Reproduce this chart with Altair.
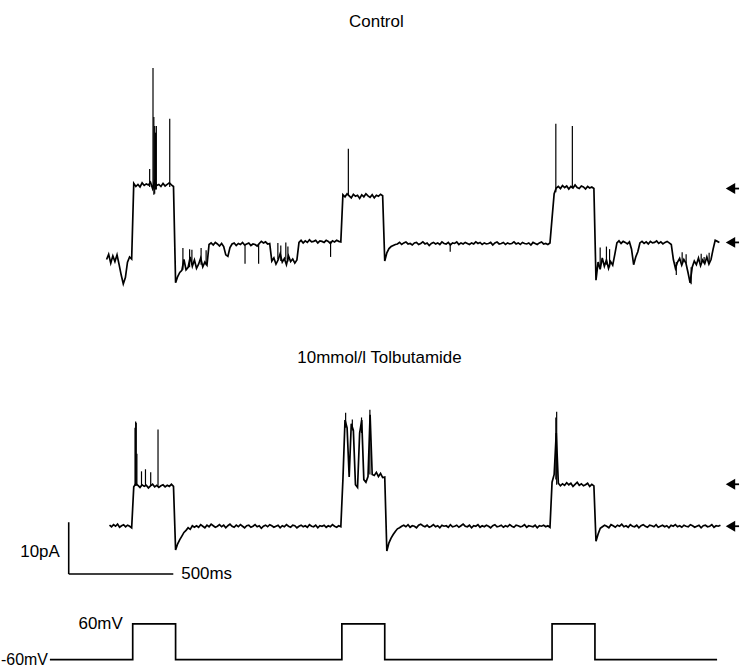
import altair as alt
import numpy as np
import pandas as pd

# ---------------- data (time in ms, current in pA, voltage in mV) ----------------
# Control trace: segments (start ms, end ms, sampled values in pA)
control_segments = [
    (0, 120, [-3.5, -2.5, -4.2, -2.8, -3.9, -2.6, -4.5, -6.5, -8.2, -7.0, -4.0, -3.0, -3.4]),
    (130, 320, [11.2, 10.6, 11.0, 10.5, 11.3, 10.8, 11.1, 10.9, 11.4, 10.2, 11.6, 10.8, 11.0, 10.6,
                11.2, 10.7, 11.0, 11.3, 10.9, 10.6]),
    (330, 480, [-8.0, -6.8, -6.0, -5.6, -3.5, -5.5, -5.0, -3.0, -4.8, -3.6, -5.2, -4.4, -3.2, -4.9,
                -4.0, -4.6]),
    (490, 780, [-0.6, -0.3, -0.7, -0.2, -0.5, -0.9, -0.4, -1.0, -2.6, -2.9, -1.2, -0.5, -0.3, -0.8,
                -0.4, -0.6, -0.2, -0.7, -0.5, -0.3, -0.8, -0.5, -0.6, -0.9, -0.4, 0.0, -0.3, -0.1,
                -0.5, -0.4]),
    (790, 910, [-3.8, -3.2, -4.4, -3.6, -2.4, -4.0, -3.3, -4.5, -2.8, -3.9, -3.4, -4.2, -3.6]),
    (920, 1120, [-0.2, 0.2, -0.3, 0.1, -0.2, 0.3, -0.1, 0.0, 0.2, -0.3, 0.1, 0.0, -0.2, 0.2, 0.0,
                 -0.4, 0.1, -0.1, 0.2, 0.0, -0.1]),
    (1130, 1320, [9.0, 8.6, 9.2, 8.8, 8.4, 9.1, 8.7, 8.9, 8.3, 9.0, 8.6, 9.2, 8.8, 8.5, 9.0, 8.4,
                  8.9, 8.7, 9.1, 8.8]),
    (1330, 2120, [-3.8, -2.2, -1.4, -1.0, -0.8, -0.6,
                  -0.5, -0.2, -0.6, -0.3, -0.1, -0.5, -0.4, -0.7, -0.3, -0.2, -0.6, -0.4, -0.1,
                  -0.5, -0.3, -0.8, -0.4, -0.2, -0.5, -0.3, -0.6, -0.1, -0.4, -0.5, -0.2, -0.7,
                  -0.3, -0.4, -0.1, -0.6, -0.3, -0.5, -0.2, -0.4, -0.6, -0.3, -0.5, -0.1, -0.4,
                  -0.2, -0.6, -0.3, -0.5, -0.4, -0.2, -0.7, -0.3, -0.1, -0.5, -0.4, -0.2, -0.6,
                  -0.3, -0.5, -0.4, -0.1, -0.5, -0.3, -0.6, -0.2, -0.4, -0.5, -0.3, -0.7, -0.2,
                  -0.4, -0.6, -0.3, -0.1, -0.5, -0.4, -0.6, -0.3]),
    (2130, 2330, [4.5, 9.2, 10.3, 10.6, 10.2, 10.8, 10.4, 10.7, 10.1, 10.6, 10.3, 10.9, 10.4, 10.2,
                  10.7, 10.5, 10.1, 10.6, 10.3, 10.5, 10.2]),
    (2340, 2930, [-7.5, -4.0, -5.4, -3.2, -4.8, -3.6, -5.2, -3.9, -4.6, -2.5, -0.3, 0.1, -0.4, 0.0,
                  -0.2, -0.5, -0.1, -1.5, -4.5, -3.0, -2.0, -0.3, 0.0, -0.4, -0.1, -0.5, 0.0, -0.3,
                  -0.2, 0.1, -0.4, -0.1, -0.5, -0.2, 0.0, -0.3, -0.6, -3.5, -5.2, -4.0, -3.3, -4.6,
                  -3.5, -4.2, -6.0, -8.0, -5.0, -3.8, -4.5, -3.2, -4.7, -3.6, -4.3, -3.0, -4.4,
                  -3.5, -1.5, 0.2, 0.0, -0.2]),
]
# brief channel openings / closings in the control trace: (ms, from pA, to pA)
control_spikes = [
    (206, 10.5, 14.0), (222, 10.0, 33.5), (226, 9.0, 24.0), (230, 9.2, 22.3), (234, 10.0, 21.0),
    (238, 10.0, 22.3), (302, 10.5, 23.7),
    (365, -5.5, -1.3), (397, -5.0, -1.5), (408, -4.5, -1.6), (452, -4.5, -1.3), (476, -4.6, -1.7),
    (662, -0.5, -4.3), (727, -0.5, -4.3),
    (819, -3.5, -0.3), (833, -3.8, -0.8), (857, -3.5, -0.2), (867, -3.9, -1.0),
    (1071, 0.0, -3.0), (1156, 8.8, 17.9), (1643, -0.4, -2.0),
    (2148, 9.5, 22.7), (2227, 10.3, 22.3),
    (2360, -5.0, -1.2), (2390, -4.5, -1.0), (2405, -5.0, -1.5),
    (2724, -4.0, -6.5), (2752, -4.0, -2.1), (2771, -4.2, -2.5), (2795, -5.0, -8.3),
    (2843, -4.0, -2.4), (2857, -4.2, -3.0), (2881, -4.0, -2.2),
]

# 10 mmol/l tolbutamide trace
tolb_segments = [
    (14, 120, [0.2, -0.1, 0.3, 0.0, 0.4, -0.2, 0.1, 0.3, -0.1, 0.2, 0.0, -0.3]),
    (130, 320, [7.6, 8.2, 7.9, 7.5, 8.0, 7.7, 7.9, 7.4, 7.8, 8.1, 7.6, 7.9, 7.5, 7.8, 8.0, 7.6,
                7.9, 7.7, 8.1, 7.7]),
    (330, 1120, [-4.6, -3.4, -2.6, -1.9, -1.2, -0.8, -0.3, -0.6, 0.1, -0.2,
                 0.1, -0.2, 0.3, 0.0, -0.3, 0.2, -0.1, 0.4, 0.1, -0.2, 0.0, 0.3, -0.1, 0.2, -0.3,
                 0.1, 0.4, 0.0, -0.2, 0.2, -0.1, 0.3, 0.0, -0.3, 0.1, 0.2, -0.2, 0.0, 0.3, -0.1,
                 0.1, -0.4, 0.0, 0.2, -0.1, 0.3, 0.1, -0.2, 0.0, 0.2, -0.3, 0.1, -0.1, 0.3, 0.0,
                 -0.2, 0.2, 0.1, -0.3, 0.0, 0.2, -0.1, 0.1, -0.2, 0.3, 0.0, -0.1, 0.2, -0.3, 0.1,
                 0.0, 0.2, -0.2, 0.1, -0.1, 0.3, 0.0, -0.2, 0.1, -0.1]),
    (1130, 1330, [9.0, 20.5, 19.0, 9.5, 19.8, 18.5, 8.0, 7.5, 18.0, 20.5, 9.0, 8.5, 9.6, 21.5,
                  10.0, 9.8, 10.4, 9.6, 10.2, 9.4, 9.5]),
    (1340, 2120, [-4.8, -3.2, -2.3, -1.6, -1.0, -0.5, -0.3,
                  0.0, 0.2, -0.1, 0.3, -0.2, 0.1, 0.0, -0.3, 0.2, 0.4, 0.1, -0.1, 0.2, -0.2, 0.0,
                  0.3, -0.1, 0.1, -0.3, 0.2, 0.0, 0.1, -0.2, 0.3, -0.1, 0.0, 0.2, -0.2, 0.1, 0.4,
                  0.0, -0.1, 0.2, -0.3, 0.1, 0.0, 0.3, -0.2, 0.1, -0.1, 0.2, 0.0, -0.3, 0.1, 0.3,
                  -0.1, 0.0, 0.2, -0.2, 0.1, -0.1, 0.3, 0.0, -0.2, 0.2, 0.1, -0.1, 0.0, 0.3, -0.2,
                  0.1, 0.0, -0.1, 0.2, -0.3, 0.1, 0.0, 0.2, -0.1, 0.1, -0.2]),
    (2130, 2330, [8.5, 10.0, 18.0, 8.3, 7.8, 8.2, 7.9, 8.4, 8.0, 8.3, 7.7, 8.1, 8.5, 7.9, 8.2,
                  7.8, 8.0, 8.3, 7.7, 8.1, 7.8]),
    (2340, 2935, [-2.9, -1.5, -0.4,
                  -0.1, 0.2, 0.0, -0.3, 0.3, 0.1, -0.2, 0.2, 0.0, 0.4, -0.1, 0.1, -0.2, 0.3, 0.0,
                  -0.1, 0.2, -0.3, 0.1, 0.3, 0.0, -0.2, 0.2, 0.1, -0.1, 0.3, -0.2, 0.0, 0.2, -0.1,
                  0.1, -0.3, 0.2, 0.0, 0.3, -0.1, 0.1, -0.2, 0.2, 0.0, -0.1, 0.3, 0.1, -0.2, 0.0,
                  0.2, -0.3, 0.1, 0.2, -0.1, 0.0, 0.3, -0.2, 0.1, 0.0, 0.2]),
]
tolb_spikes = [
    (136, 7.8, 19.0), (139, 7.8, 20.2), (142, 7.8, 20.0), (145, 8.0, 14.0), (167, 7.8, 10.6),
    (186, 7.8, 11.0), (211, 7.8, 10.4), (246, 7.8, 18.7),
    (1143, 19.0, 21.9), (1175, 18.5, 20.6), (1219, 18.0, 21.0), (1259, 10.0, 22.5),
    (2148, 9.0, 21.0), (2152, 8.0, 22.1),
]

# open / closed level markers (pA) at the right edge
control_levels = [10.2, -0.2]
tolb_levels = [8.1, 0.0]

# voltage protocol: step times (ms) and levels (mV)
volt_t = [-271, 125, 330, 1125, 1330, 2130, 2335, 2919]
volt_mv = [-60, 60, -60, 60, -60, 60, -60, -60]

# scale bars
bar_pA = 10
bar_ms = 500

# ---------------- helpers ----------------
FONT = "Liberation Sans"
FS = 17
W = 740
X_DOM = [-500, 3023.8]
xs = alt.Scale(domain=X_DOM, nice=False, zero=False)
LW = 1.7


def seg_frame(segments):
    rows = []
    for s, e, vals in segments:
        ts = np.linspace(s, e, len(vals))
        rows += [{"t": float(t), "v": v} for t, v in zip(ts, vals)]
    return pd.DataFrame(rows)


def spike_frame(spikes):
    return pd.DataFrame(spikes, columns=["t", "v", "v2"])


def trace_panel(segments, spikes, levels, ydom, height, extra_layers, labels):
    ys = alt.Scale(domain=ydom, nice=False, zero=False)
    X = alt.X("t:Q", scale=xs, axis=None)
    line = alt.Chart(seg_frame(segments)).mark_line(
        color="black", strokeWidth=LW, strokeJoin="miter"
    ).encode(x=X, y=alt.Y("v:Q", scale=ys, axis=None))
    sp = alt.Chart(spike_frame(spikes)).mark_rule(color="black", strokeWidth=1.2).encode(
        x=X, y=alt.Y("v:Q", scale=ys), y2="v2:Q"
    )
    lv = pd.DataFrame({"t": [2983] * len(levels), "t2": [3024] * len(levels), "v": levels})
    arrow_tail = alt.Chart(lv).mark_rule(color="black", strokeWidth=1.8).encode(
        x=X, x2="t2:Q", y=alt.Y("v:Q", scale=ys)
    )
    arrow_head = alt.Chart(lv).mark_point(
        shape="triangle-left", filled=True, color="black", size=120, opacity=1
    ).encode(x=X, y=alt.Y("v:Q", scale=ys))
    txt = alt.Chart(pd.DataFrame(labels)).mark_text(
        font=FONT, fontSize=FS, color="black", baseline="middle", align="center"
    ).encode(x=X, y=alt.Y("v:Q", scale=ys), text="label:N")
    layers = [line, sp, arrow_tail, arrow_head] + extra_layers(X, ys) + [txt]
    return alt.layer(*layers).properties(width=W, height=height)


def no_extra(X, ys):
    return []


def scale_bars(X, ys):
    bar_t0 = -181
    bar_v0 = -9.23
    v = pd.DataFrame({"t": [bar_t0], "v": [bar_v0], "v2": [bar_v0 + bar_pA]})
    h = pd.DataFrame({"t": [bar_t0], "t2": [bar_t0 + bar_ms], "v": [bar_v0]})
    vr = alt.Chart(v).mark_rule(color="black", strokeWidth=1.6).encode(
        x=X, y=alt.Y("v:Q", scale=ys), y2="v2:Q")
    hr = alt.Chart(h).mark_rule(color="black", strokeWidth=1.6).encode(
        x=X, x2="t2:Q", y=alt.Y("v:Q", scale=ys))
    lab1 = alt.Chart(pd.DataFrame({"t": [bar_t0], "v": [bar_v0 + 4.2], "label": [f"{bar_pA}pA"]})).mark_text(
        font=FONT, fontSize=FS, align="right", baseline="middle", dx=-9, color="black"
    ).encode(x=X, y=alt.Y("v:Q", scale=ys), text="label:N")
    lab2 = alt.Chart(pd.DataFrame({"t": [bar_t0 + bar_ms], "v": [bar_v0], "label": [f"{bar_ms}ms"]})).mark_text(
        font=FONT, fontSize=FS, align="left", baseline="middle", dx=8, color="black"
    ).encode(x=X, y=alt.Y("v:Q", scale=ys), text="label:N")
    return [vr, hr, lab1, lab2]


control = trace_panel(
    control_segments, control_spikes, control_levels,
    [-11.346, 46.346], 300, no_extra,
    {"t": [1290], "v": [42.4], "label": ["Control"]},
)
tolb = trace_panel(
    tolb_segments, tolb_spikes, tolb_levels,
    [-14.038, 43.654], 300, scale_bars,
    {"t": [1305], "v": [32.5], "label": ["10mmol/l Tolbutamide"]},
)

# voltage panel
vs = alt.Scale(domain=[-93.33, 143.33], nice=False, zero=False)
VX = alt.X("t:Q", scale=xs, axis=None)
vline = alt.Chart(pd.DataFrame({"t": volt_t, "v": volt_mv})).mark_line(
    color="black", strokeWidth=1.7, interpolate="step-after"
).encode(x=VX, y=alt.Y("v:Q", scale=vs, axis=None))
vlab_hi = alt.Chart(pd.DataFrame({"t": [volt_t[1]], "v": [60], "label": ["60mV"]})).mark_text(
    font=FONT, fontSize=FS, align="right", baseline="middle", dx=-10, color="black"
).encode(x=VX, y=alt.Y("v:Q", scale=vs), text="label:N")
vlab_lo = alt.Chart(pd.DataFrame({"t": [volt_t[0]], "v": [-60], "label": ["-60mV"]})).mark_text(
    font=FONT, fontSize=16, align="right", baseline="middle", dx=-2, color="black"
).encode(x=VX, y=alt.Y("v:Q", scale=vs), text="label:N")
volt = alt.layer(vline, vlab_hi, vlab_lo).properties(width=W, height=71)

chart = alt.vconcat(control, tolb, volt, spacing=0).properties(
    padding=0, background="white"
).configure_view(strokeWidth=0)

chart.save("out.html", embed_options={"renderer": "svg", "actions": False})
